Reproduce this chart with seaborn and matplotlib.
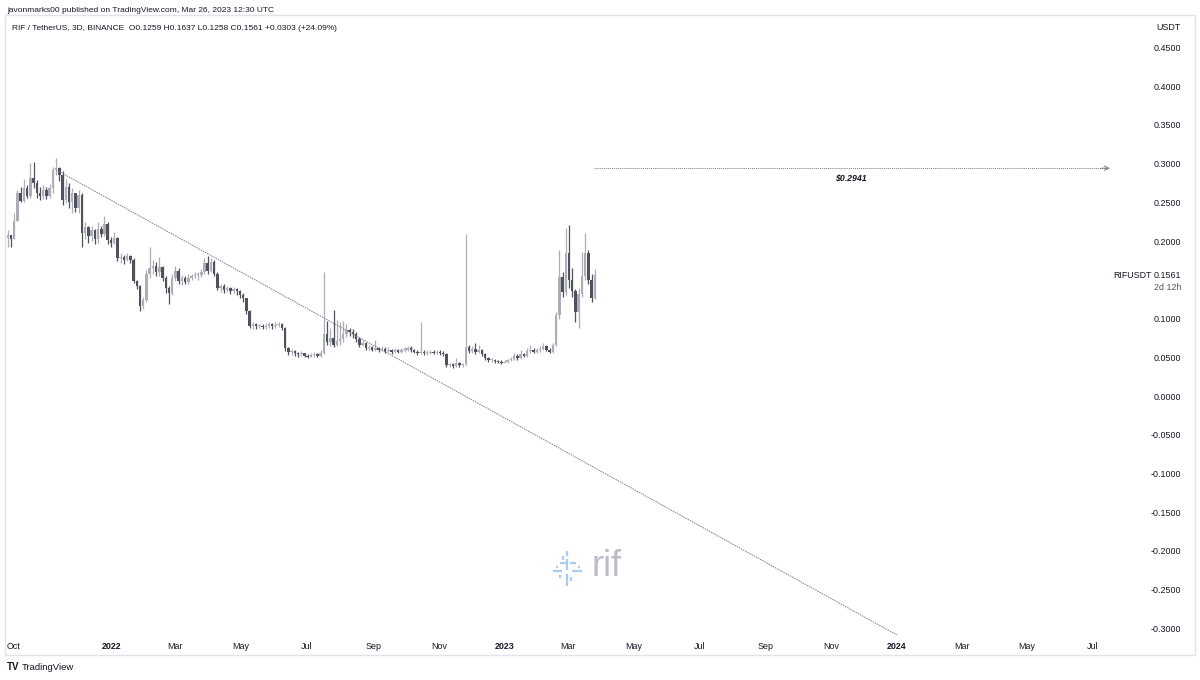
import numpy as np
import pandas as pd
import matplotlib
matplotlib.use('Agg')
import matplotlib.pyplot as plt
import matplotlib.dates as mdates
from matplotlib.patches import Rectangle
from matplotlib.lines import Line2D
import seaborn as sns

# RIF / USDT, 3D candles (Binance), Sep 2021 - Mar 2023
first_date = '2021-09-26'
n_candles = 183
first_open = 0.204

closes = [0.208, 0.203, 0.226, 0.262, 0.252, 0.268, 0.258, 0.281, 0.275, 0.262,
          0.258, 0.266, 0.258, 0.268, 0.292, 0.294, 0.285, 0.253, 0.270, 0.250,
          0.262, 0.243, 0.260, 0.211, 0.218, 0.206, 0.214, 0.203, 0.215, 0.209,
          0.222, 0.202, 0.198, 0.204, 0.178, 0.180, 0.176, 0.181, 0.176, 0.148,
          0.142, 0.116, 0.124, 0.158, 0.165, 0.168, 0.160, 0.166, 0.152, 0.139,
          0.133, 0.152, 0.162, 0.149, 0.152, 0.147, 0.152, 0.155, 0.156, 0.156,
          0.160, 0.172, 0.162, 0.173, 0.158, 0.140, 0.142, 0.137, 0.139, 0.136,
          0.138, 0.135, 0.131, 0.126, 0.110, 0.091, 0.093, 0.090, 0.091, 0.089,
          0.091, 0.093, 0.090, 0.092, 0.093, 0.088, 0.062, 0.057, 0.058, 0.055,
          0.054, 0.055, 0.052, 0.051, 0.053, 0.054, 0.052, 0.056, 0.080, 0.070,
          0.075, 0.066, 0.071, 0.074, 0.080, 0.085, 0.083, 0.080, 0.074, 0.066,
          0.068, 0.062, 0.063, 0.060, 0.062, 0.059, 0.061, 0.058, 0.060, 0.057,
          0.059, 0.057, 0.059, 0.060, 0.062, 0.059, 0.057, 0.055, 0.057, 0.055,
          0.056, 0.057, 0.056, 0.057, 0.055, 0.054, 0.040, 0.041, 0.039, 0.042,
          0.040, 0.041, 0.063, 0.058, 0.061, 0.057, 0.060, 0.054, 0.049, 0.046,
          0.047, 0.045, 0.044, 0.043, 0.044, 0.046, 0.048, 0.052, 0.049, 0.054,
          0.052, 0.058, 0.060, 0.057, 0.059, 0.061, 0.064, 0.060, 0.057, 0.066,
          0.105, 0.154, 0.134, 0.185, 0.150, 0.135, 0.108, 0.132, 0.155, 0.185,
          0.150, 0.1259, 0.1561]

highs = [0.214, 0.208, 0.236, 0.266, 0.270, 0.280, 0.272, 0.301, 0.302, 0.279,
         0.270, 0.272, 0.270, 0.274, 0.296, 0.307, 0.296, 0.290, 0.280, 0.275,
         0.268, 0.262, 0.266, 0.262, 0.224, 0.220, 0.220, 0.216, 0.224, 0.220,
         0.232, 0.224, 0.205, 0.212, 0.205, 0.184, 0.182, 0.184, 0.182, 0.178,
         0.150, 0.143, 0.128, 0.163, 0.192, 0.176, 0.173, 0.180, 0.168, 0.155,
         0.142, 0.158, 0.168, 0.165, 0.156, 0.155, 0.158, 0.158, 0.160, 0.160,
         0.164, 0.178, 0.181, 0.178, 0.175, 0.160, 0.145, 0.144, 0.142, 0.141,
         0.141, 0.140, 0.137, 0.133, 0.127, 0.111, 0.096, 0.094, 0.093, 0.093,
         0.094, 0.095, 0.094, 0.095, 0.096, 0.094, 0.089, 0.063, 0.061, 0.059,
         0.057, 0.058, 0.056, 0.054, 0.055, 0.057, 0.056, 0.059, 0.160, 0.097,
         0.088, 0.111, 0.098, 0.095, 0.097, 0.093, 0.088, 0.086, 0.082, 0.076,
         0.072, 0.070, 0.066, 0.065, 0.072, 0.063, 0.064, 0.063, 0.063, 0.061,
         0.062, 0.061, 0.062, 0.063, 0.065, 0.064, 0.061, 0.059, 0.095, 0.059,
         0.059, 0.060, 0.059, 0.060, 0.059, 0.058, 0.055, 0.043, 0.042, 0.049,
         0.044, 0.043, 0.209, 0.066, 0.064, 0.069, 0.066, 0.061, 0.056, 0.050,
         0.049, 0.048, 0.047, 0.046, 0.046, 0.048, 0.051, 0.055, 0.054, 0.060,
         0.056, 0.062, 0.066, 0.062, 0.062, 0.064, 0.068, 0.066, 0.062, 0.068,
         0.108, 0.188, 0.160, 0.217, 0.221, 0.165, 0.138, 0.140, 0.186, 0.210,
         0.188, 0.158, 0.1637]

lows = [0.193, 0.193, 0.203, 0.226, 0.250, 0.250, 0.255, 0.256, 0.268, 0.256,
        0.253, 0.254, 0.254, 0.255, 0.262, 0.285, 0.278, 0.246, 0.249, 0.243,
        0.236, 0.238, 0.236, 0.192, 0.203, 0.198, 0.200, 0.196, 0.198, 0.205,
        0.207, 0.196, 0.193, 0.196, 0.174, 0.172, 0.170, 0.174, 0.172, 0.146,
        0.138, 0.110, 0.112, 0.122, 0.152, 0.158, 0.155, 0.155, 0.148, 0.133,
        0.119, 0.130, 0.148, 0.144, 0.143, 0.144, 0.145, 0.150, 0.152, 0.150,
        0.153, 0.158, 0.158, 0.160, 0.155, 0.137, 0.134, 0.133, 0.134, 0.132,
        0.133, 0.131, 0.127, 0.122, 0.106, 0.088, 0.087, 0.087, 0.088, 0.086,
        0.087, 0.088, 0.087, 0.088, 0.089, 0.085, 0.058, 0.053, 0.053, 0.052,
        0.051, 0.052, 0.050, 0.049, 0.050, 0.051, 0.050, 0.051, 0.054, 0.066,
        0.065, 0.063, 0.064, 0.066, 0.070, 0.076, 0.078, 0.075, 0.070, 0.063,
        0.064, 0.060, 0.060, 0.058, 0.058, 0.057, 0.058, 0.056, 0.057, 0.054,
        0.055, 0.055, 0.056, 0.057, 0.058, 0.057, 0.055, 0.053, 0.054, 0.053,
        0.053, 0.054, 0.054, 0.054, 0.053, 0.052, 0.037, 0.037, 0.036, 0.038,
        0.037, 0.038, 0.040, 0.055, 0.056, 0.054, 0.055, 0.052, 0.047, 0.044,
        0.044, 0.043, 0.042, 0.041, 0.042, 0.043, 0.045, 0.047, 0.047, 0.048,
        0.050, 0.051, 0.055, 0.055, 0.056, 0.057, 0.059, 0.058, 0.055, 0.056,
        0.064, 0.100, 0.128, 0.130, 0.140, 0.128, 0.095, 0.088, 0.128, 0.150,
        0.145, 0.122, 0.1258]

# drawings on the chart
trend_dates = ['2021-11-10', '2024-01-01']
trend_prices = [0.292, -0.3085]
target_dates = ['2023-03-25', '2024-07-15']
target_price = 0.2941

# 0.1500 is hidden behind the last-price label on the original
price_ticks = [0.45, 0.40, 0.35, 0.30, 0.25, 0.20, 0.10, 0.05, 0.0,
               -0.05, -0.10, -0.15, -0.20, -0.25, -0.30]
month_ticks = ['2021-10-01', '2022-01-01', '2022-03-01', '2022-05-01', '2022-07-01',
               '2022-09-01', '2022-11-01', '2023-01-01', '2023-03-01', '2023-05-01',
               '2023-07-01', '2023-09-01', '2023-11-01', '2024-01-01', '2024-03-01',
               '2024-05-01', '2024-07-01']
month_labels = ['Oct', '2022', 'Mar', 'May', 'Jul', 'Sep', 'Nov', '2023', 'Mar', 'May',
                'Jul', 'Sep', 'Nov', '2024', 'Mar', 'May', 'Jul']

assert len(closes) == len(highs) == len(lows) == n_candles

dates = pd.date_range(first_date, periods=n_candles, freq='3D')
df = pd.DataFrame({'date': mdates.date2num(dates), 'close': closes, 'high': highs, 'low': lows})
df['open'] = [first_open] + closes[:-1]
df['up'] = df['close'] >= df['open']

sns.set_theme(style='white')
plt.rcParams['font.family'] = ['Liberation Sans', 'DejaVu Sans']

W, H = 1200, 680
fig = plt.figure(figsize=(12, 6.8), dpi=100)
fig.patch.set_facecolor('white')

def fx(x):
    return x / W

def fy(y):
    return 1 - y / H

ax = fig.add_axes([fx(7), fy(635), fx(1110) - fx(7), fy(20) - fy(635)])
ax.set_facecolor('white')

up_col = '#abaeb7'
down_col = '#4f525d'
colors = np.where(df['up'], up_col, down_col)

# wicks and bodies
ax.vlines(df['date'], df['low'], df['high'], colors=colors, linewidth=0.9, zorder=2)
body_lo = np.minimum(df['open'], df['close'])
body_h = np.maximum(np.abs(df['close'] - df['open']), 0.0013)
ax.bar(df['date'], body_h, bottom=body_lo, width=2.3, color=colors, linewidth=0, zorder=3)

# descending trend line
trend = pd.DataFrame({'x': mdates.date2num(pd.to_datetime(trend_dates)), 'y': trend_prices})
sns.lineplot(data=trend, x='x', y='y', ax=ax, color='#787b86', linewidth=0.7,
             linestyle=(0, (1.5, 1.0)), zorder=4)

# target level with arrow
tx = mdates.date2num(pd.to_datetime(target_dates))
target = pd.DataFrame({'x': tx, 'y': [target_price, target_price]})
sns.lineplot(data=target, x='x', y='y', ax=ax, color='#787b86', linewidth=0.7,
             linestyle=(0, (1.0, 1.0)), zorder=4)
ax.annotate('', xy=(tx[1] + 2, target_price), xytext=(tx[1] - 6, target_price),
            arrowprops=dict(arrowstyle='->', color='#787b86', lw=0.7,
                            shrinkA=0, shrinkB=0, mutation_scale=8))
ax.text(tx.mean(), target_price - 0.006, '$0.2941', parse_math=False, ha='center', va='top',
        fontsize=6.3, fontstyle='italic', fontweight='bold', color='#131722')

left_lim = mdates.date2num(pd.Timestamp('2021-10-01')) - 5.67
right_lim = mdates.date2num(pd.Timestamp('2024-01-01')) + 198.1
ax.set_xlim(left_lim, right_lim)
ax.set_ylim(-0.3085, 0.4854)
ax.set_xlabel('')
ax.set_ylabel('')

ax.yaxis.tick_right()
ax.set_yticks(price_ticks)
ax.set_yticklabels(['%.4f' % p for p in price_ticks])
ax.tick_params(axis='y', length=0, pad=51, labelsize=6.4, labelcolor='#131722')
for lab in ax.get_yticklabels():
    lab.set_horizontalalignment('right')

ax.set_xticks(mdates.date2num(pd.to_datetime(month_ticks)))
ax.set_xticklabels(month_labels)
ax.tick_params(axis='x', length=0, pad=5, labelsize=6.4, labelcolor='#131722')
for lab in ax.get_xticklabels():
    if lab.get_text().isdigit():
        lab.set_fontweight('bold')

for s in ax.spines.values():
    s.set_visible(False)
ax.grid(False)

# chart frame
fig.add_artist(Rectangle((fx(5), fy(655)), fx(1195) - fx(5), fy(15) - fy(655),
                         transform=fig.transFigure, fill=False, edgecolor='#e0e3eb', lw=1))

# header texts
fig.text(fx(7), fy(10), 'javonmarks00 published on TradingView.com, Mar 26, 2023 12:30 UTC',
         va='center', ha='left', fontsize=6.0, color='#131722')
fig.text(fx(12), fy(28), 'RIF / TetherUS, 3D, BINANCE  O0.1259 H0.1637 L0.1258 C0.1561 +0.0303 (+24.09%)',
         va='center', ha='left', fontsize=6.0, color='#131722')
fig.text(fx(1156), fy(28), 'USDT', va='center', ha='left', fontsize=6.4, color='#131722')

# last price label
fig.text(fx(1113), fy(276), 'RIFUSDT', va='center', ha='left', fontsize=6.4, color='#131722')
fig.text(fx(1181), fy(276), '0.1561', va='center', ha='right', fontsize=6.4, color='#131722')
fig.text(fx(1181), fy(287), '2d 12h', va='center', ha='right', fontsize=6.4, color='#50535e')

# TradingView footer
fig.text(fx(7), fy(667), 'TV', va='center', ha='left', fontsize=7, fontweight='bold', color='#131722')
fig.text(fx(22), fy(667), 'TradingView', va='center', ha='left', fontsize=6.8, color='#131722')

# rif watermark
fig.text(fx(591), fy(566), 'rif', va='center', ha='left', fontsize=26, color='#babdc5')
icon = '#a9cdee'
segs = [((567, 551), (567, 556)), ((567, 559), (567, 570)), ((567, 574), (567, 586)),
        ((560, 563), (566, 563)), ((570, 563), (576, 563)), ((553, 571), (562, 571)),
        ((572, 571), (582, 571)), ((563, 556), (563, 560)), ((571, 577), (571, 581)),
        ((556, 567), (558, 567)), ((578, 567), (580, 567)), ((560, 575), (560, 578))]
for (x0, y0), (x1, y1) in segs:
    fig.add_artist(Line2D([fx(x0), fx(x1)], [fy(y0), fy(y1)], transform=fig.transFigure,
                          color=icon, lw=1.6, solid_capstyle='butt'))

fig.savefig('out.png', dpi=100, facecolor='white')
